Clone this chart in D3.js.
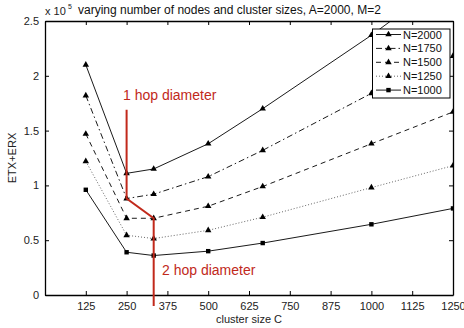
<!DOCTYPE html>
<html>
<head>
<meta charset="utf-8">
<script src="https://cdn.jsdelivr.net/npm/d3@7"></script>
<style>
body { margin: 0; background: #fff; }
svg { font-family: "Liberation Sans", Arial, sans-serif; }
.tick text { font-size: 11px; fill: #222; }
.domain { stroke: #000; }
</style>
</head>
<body>
<script>
const width = 464, height = 328;
const margin = {left: 45, right: 11, top: 21, bottom: 33};

// data (ETX+ERX in units of 1e5)
const clusterSizes = [125, 250, 333, 500, 667, 1000, 1250];
const n2000 = [2.10, 1.11, 1.15, 1.38, 1.70, 2.37, 2.92];
const n1750 = [1.82, 0.88, 0.92, 1.08, 1.32, 1.84, 2.18];
const n1500 = [1.47, 0.70, 0.70, 0.81, 0.99, 1.38, 1.67];
const n1250 = [1.22, 0.545, 0.515, 0.59, 0.71, 0.98, 1.18];
const n1000 = [0.96, 0.39, 0.36, 0.40, 0.474, 0.645, 0.79];
const seriesNames = ["N=2000", "N=1750", "N=1500", "N=1250", "N=1000"];
const xTicks = [125, 250, 375, 500, 625, 750, 875, 1000, 1125, 1250];
const yTicks = [0, 0.5, 1, 1.5, 2, 2.5];
const diameterX = [250, 250, 333, 333];
const diameterY = [1.69, 0.88, 0.70, -0.10];

const series = [
  {name: seriesNames[0], values: n2000, dash: null, marker: "tri"},
  {name: seriesNames[1], values: n1750, dash: "6,3,1.5,3", marker: "tri"},
  {name: seriesNames[2], values: n1500, dash: "5,4", marker: "tri"},
  {name: seriesNames[3], values: n1250, dash: "1,2", marker: "tri"},
  {name: seriesNames[4], values: n1000, dash: null, marker: "sq"}
];

const svg = d3.select("body").append("svg")
.attr("width", width)
.attr("height", height);

const plotW = width - margin.left - margin.right;
const plotH = height - margin.top - margin.bottom;

const scaleX = d3.scaleLinear()
.domain([0, 1250])
.range([margin.left, margin.left + plotW]);

const scaleY = d3.scaleLinear()
.domain([0, 2.5])
.range([margin.top + plotH, margin.top]);

svg.append("clipPath")
.attr("id", "clip")
.append("rect")
.attr("x", margin.left)
.attr("y", margin.top)
.attr("width", plotW)
.attr("height", plotH);

// axes with inward ticks, MATLAB box
const tick = 4;
svg.append("g")
.attr("transform", `translate(0, ${margin.top + plotH})`)
.call(d3.axisBottom(scaleX).tickValues(xTicks).tickFormat(d => d).tickSizeInner(-tick).tickSizeOuter(0).tickPadding(7))
.call(g => g.selectAll(".tick text").attr("dy", "0.71em"));

svg.append("g")
.attr("transform", `translate(${margin.left}, 0)`)
.call(d3.axisLeft(scaleY).tickValues(yTicks).tickFormat(d => d).tickSizeInner(-tick).tickSizeOuter(0).tickPadding(6));

svg.append("g")
.attr("transform", `translate(0, ${margin.top})`)
.call(d3.axisTop(scaleX).tickValues(xTicks).tickSizeInner(-tick).tickSizeOuter(0).tickFormat(""));

svg.append("g")
.attr("transform", `translate(${margin.left + plotW}, 0)`)
.call(d3.axisRight(scaleY).tickValues(yTicks).tickSizeInner(-tick).tickSizeOuter(0).tickFormat(""));

svg.selectAll(".domain").attr("stroke-width", 1.3);
svg.selectAll(".tick line").attr("stroke", "#000");

const line = d3.line()
.x((d, i) => scaleX(clusterSizes[i]))
.y(d => scaleY(d));

const plot = svg.append("g").attr("clip-path", "url(#clip)");

function drawMarker(g, type, x, y) {
  if (type === "tri") {
    g.append("path")
    .attr("d", d3.symbol(d3.symbolTriangle, 18)())
    .attr("transform", `translate(${x}, ${y})`)
    .attr("fill", "#000");
  } else {
    g.append("rect")
    .attr("x", x - 2.2).attr("y", y - 2.2)
    .attr("width", 4.4).attr("height", 4.4)
    .attr("fill", "#000");
  }
}

for (const s of series) {
  plot.append("path")
  .attr("d", line(s.values))
  .attr("fill", "none")
  .attr("stroke", s.dash === "1,2" ? "#555" : "#000")
  .attr("stroke-width", 0.9)
  .attr("stroke-dasharray", s.dash);
  s.values.forEach((v, i) => drawMarker(plot, s.marker, scaleX(clusterSizes[i]), scaleY(v)));
}

// diameter line
const red = "#c1291b";
svg.append("path")
.attr("d", d3.line().x((d, i) => scaleX(diameterX[i])).y(d => scaleY(d))(diameterY))
.attr("fill", "none")
.attr("stroke", red)
.attr("stroke-width", 2);

svg.append("text")
.attr("x", 123).attr("y", 100)
.attr("fill", red)
.style("font-size", "14px")
.text("1 hop diameter");

svg.append("text")
.attr("x", 162).attr("y", 275)
.attr("fill", red)
.style("font-size", "14px")
.text("2 hop diameter");

// legend
const lg = svg.append("g");
lg.append("rect")
.attr("x", 372.5).attr("y", 29)
.attr("width", 77.5).attr("height", 69)
.attr("fill", "#fff")
.attr("stroke", "#000")
.attr("stroke-width", 1);
series.forEach((s, i) => {
  const y = 34.5 + i * 13.9;
  lg.append("line")
  .attr("x1", 376).attr("x2", 401)
  .attr("y1", y).attr("y2", y)
  .attr("stroke", s.dash === "1,2" ? "#555" : "#000")
  .attr("stroke-width", 0.9)
  .attr("stroke-dasharray", s.dash);
  drawMarker(lg, s.marker, 388.5, y);
  lg.append("text")
  .attr("x", 403).attr("y", y + 4)
  .style("font-size", "11px")
  .attr("fill", "#111")
  .text(s.name);
});

// titles and labels
svg.append("text")
.attr("x", 45).attr("y", 15)
.style("font-size", "11px")
.attr("fill", "#222")
.text("x 10");
svg.append("text")
.attr("x", 68).attr("y", 9)
.style("font-size", "7px")
.attr("fill", "#222")
.text("5");

svg.append("text")
.attr("x", 78).attr("y", 14)
.style("font-size", "12px")
.attr("fill", "#111")
.text("varying number of nodes and cluster sizes, A=2000, M=2");

svg.append("text")
.attr("transform", `translate(16, ${margin.top + plotH / 2}) rotate(-90)`)
.attr("text-anchor", "middle")
.style("font-size", "11px")
.attr("fill", "#222")
.text("ETX+ERX");

svg.append("text")
.attr("x", margin.left + plotW / 2).attr("y", 323)
.attr("text-anchor", "middle")
.style("font-size", "11px")
.attr("fill", "#222")
.text("cluster size C");
</script>
</body>
</html>
